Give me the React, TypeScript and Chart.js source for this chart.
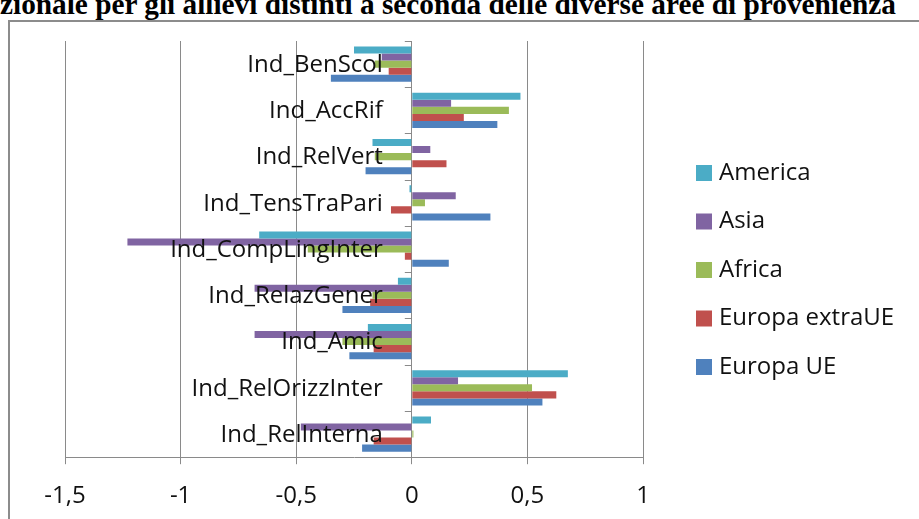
import React, { useEffect, useRef } from "react";
import { Chart, registerables } from "chart.js";

Chart.register(...registerables);

// ---- data ----
const categories = [
  "Ind_BenScol",
  "Ind_AccRif",
  "Ind_RelVert",
  "Ind_TensTraPari",
  "Ind_CompLingInter",
  "Ind_RelazGener",
  "Ind_Amic",
  "Ind_RelOrizzInter",
  "Ind_RelInterna",
];
const seriesNames = ["America", "Asia", "Africa", "Europa extraUE", "Europa UE"];
const america = [-0.25, 0.47, -0.17, -0.01, -0.66, -0.06, -0.19, 0.675, 0.083];
const asia = [-0.13, 0.17, 0.08, 0.19, -1.23, -0.68, -0.68, 0.2, -0.48];
const africa = [-0.16, 0.42, -0.16, 0.057, -0.45, -0.17, -0.3, 0.52, 0.007];
const europaExtraUE = [-0.1, 0.225, 0.15, -0.09, -0.03, -0.18, -0.165, 0.625, -0.165];
const europaUE = [-0.35, 0.37, -0.2, 0.34, 0.16, -0.3, -0.27, 0.565, -0.215];
const xTickValues = [-1.5, -1, -0.5, 0, 0.5, 1];
const titleText = "zionale per gli allievi distinti a seconda delle diverse aree di provenienza";

// ---- styles ----
const colors = ["#4BACC6", "#8064A2", "#9BBB59", "#C0504D", "#4F81BD"];
const FONT = "'Open Sans', 'Noto Sans', sans-serif";
const GRID = "#8a8a8a";

const overlayPlugin = {
  id: "overlay",
  afterDatasetsDraw(chart: any) {
    const { ctx, scales } = chart;
    const xs = scales.x;
    const ys = scales.y;
    const x0 = xs.getPixelForValue(0);
    ctx.save();
    // category tick marks on the zero axis
    ctx.strokeStyle = GRID;
    ctx.lineWidth = 1;
    for (let i = 0; i < categories.length; i++) {
      const py = Math.round(ys.getPixelForValue(i - 0.5)) + 0.5;
      ctx.beginPath();
      ctx.moveTo(x0 - 7, py);
      ctx.lineTo(x0, py);
      ctx.stroke();
    }
    // category labels next to the axis
    ctx.fillStyle = "#111";
    ctx.font = "24px " + FONT;
    ctx.textAlign = "right";
    ctx.textBaseline = "middle";
    categories.forEach((c, i) => {
      ctx.fillText(c, x0 - 29, ys.getPixelForValue(i) + 1);
    });
    ctx.restore();
  },
  afterDraw(chart: any) {
    const { ctx } = chart;
    ctx.save();
    ctx.font = "24px " + FONT;
    ctx.textAlign = "left";
    ctx.textBaseline = "middle";
    chart.data.datasets.forEach((ds: any, i: number) => {
      const cy = 173 + i * 48.5;
      ctx.fillStyle = ds.backgroundColor;
      ctx.fillRect(696, cy - 8, 16, 16);
      ctx.fillStyle = "#111";
      ctx.fillText(ds.label, 719, cy);
    });
    ctx.restore();
  },
};

export default function App() {
  const ref = useRef<HTMLCanvasElement | null>(null);
  useEffect(() => {
    if (!ref.current) return;
    const series = [america, asia, africa, europaExtraUE, europaUE];
    const chart = new Chart(ref.current, {
      type: "bar",
      data: {
        labels: categories,
        datasets: series.map((d, i) => ({
          label: seriesNames[i],
          data: d,
          backgroundColor: colors[i],
          borderWidth: 0,
          categoryPercentage: 0.76,
          barPercentage: 1,
        })),
      },
      options: {
        indexAxis: "y",
        animation: false,
        responsive: false,
        devicePixelRatio: 1,
        layout: { padding: { left: 65, top: 41, right: 276, bottom: 6 } },
        plugins: { legend: { display: false }, tooltip: { enabled: false } },
        scales: {
          x: {
            type: "linear",
            min: -1.5,
            max: 1,
            afterBuildTicks: (axis: any) => {
              axis.ticks = xTickValues.map((v) => ({ value: v }));
            },
            ticks: {
              color: "#111",
              font: { family: FONT, size: 24 },
              padding: 18,
              callback: (v: any) => String(v).replace(".", ","),
            },
            grid: { color: GRID, lineWidth: 1, tickLength: 7, drawTicks: true },
            border: { color: GRID, width: 1 },
          },
          y: {
            type: "category",
            display: false,
            offset: true,
          },
        },
      },
      plugins: [overlayPlugin],
    });
    return () => chart.destroy();
  }, []);

  return (
    <div style={{ position: "fixed", left: 0, top: 0, width: 919, height: 519, overflow: "hidden", background: "#fff" }}>
      <div
        style={{
          position: "absolute",
          left: 0,
          top: -10,
          whiteSpace: "nowrap",
          fontFamily: "'Liberation Serif', 'Times New Roman', serif",
          fontWeight: "bold",
          fontSize: 29.3,
          lineHeight: "29px",
          color: "#000",
        }}
      >
        {titleText}
      </div>
      <div
        style={{
          position: "absolute",
          left: 8,
          top: 20,
          width: 1000,
          height: 600,
          border: "2px solid #8c8c8c",
          boxSizing: "border-box",
        }}
      />
      <canvas ref={ref} width={919} height={535} style={{ position: "absolute", left: 0, top: 0 }} />
    </div>
  );
}
